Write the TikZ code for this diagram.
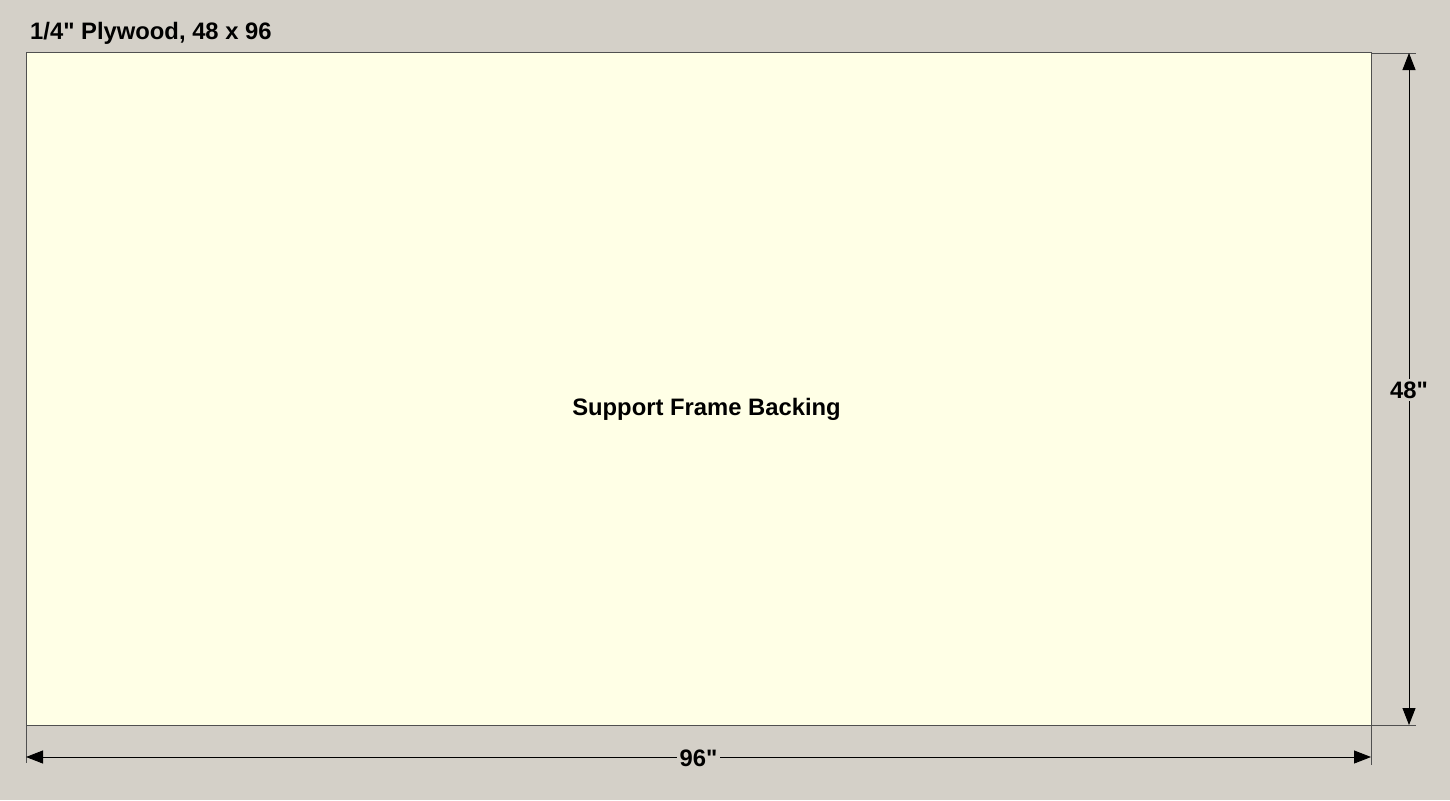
\documentclass[tikz,border=0pt]{standalone}
\usepackage{fontspec}
\newfontfamily\labelfont{Liberation Sans}
\usetikzlibrary{arrows.meta}
\definecolor{bggray}{RGB}{212,208,200}
\definecolor{sheetfill}{RGB}{255,255,230}
\definecolor{edgegray}{RGB}{80,80,80}
\begin{document}
\begin{tikzpicture}[x=1pt, y=-1pt,
	sheetbox/.style={draw=edgegray, fill=sheetfill, line width=1pt},
	extline/.style={draw=edgegray, line width=0.9pt},
	dimline/.style={line width=0.9pt,
		{Triangle[length=17pt, width=13pt]}-{Triangle[length=17pt, width=13pt]}},
	lbl/.style={font=\labelfont\bfseries\fontsize{23.8}{28}\selectfont, inner sep=2pt},
	dimlbl/.style={lbl, fill=bggray, inner sep=3pt}]
	% Background.
	\fill[bggray] (0, 0) rectangle (1450, 800);
	\useasboundingbox (0, 0) rectangle (1450, 800);
	% Sheet corners.
	\coordinate (tl) at (26, 53);
	\coordinate (tr) at (1371, 53);
	\coordinate (bl) at (26, 725);
	\coordinate (br) at (1371, 725);
	% Sheet.
	\draw[sheetbox] (tl) rectangle (br);
	\node[lbl] (part) at (706.5, 409) {Support Frame Backing};
	\node[lbl, anchor=west] (title) at (28, 33) {1/4" Plywood, 48 x 96};
	% Extension lines.
	\coordinate (tre) at (1416, 53);
	\coordinate (bre) at (1416, 725);
	\coordinate (ble) at (26, 763);
	\coordinate (bre2) at (1371, 765);
	\draw[extline] (tr) -- (tre);
	\draw[extline] (br) -- (bre);
	\draw[extline] (bl) -- (ble);
	\draw[extline] (br) -- (bre2);
	% Height.
	\coordinate (ht) at (1409, 53);
	\coordinate (hb) at (1409, 725);
	\draw[dimline] (ht) -- node[dimlbl, yshift=-1pt] (height) {48"} (hb);
	% Width.
	\coordinate (wl) at (26, 757);
	\coordinate (wr) at (1371, 757);
	\draw[dimline] (wl) -- node[dimlbl, yshift=-1pt] (width) {96"} (wr);
\end{tikzpicture}
\end{document}
